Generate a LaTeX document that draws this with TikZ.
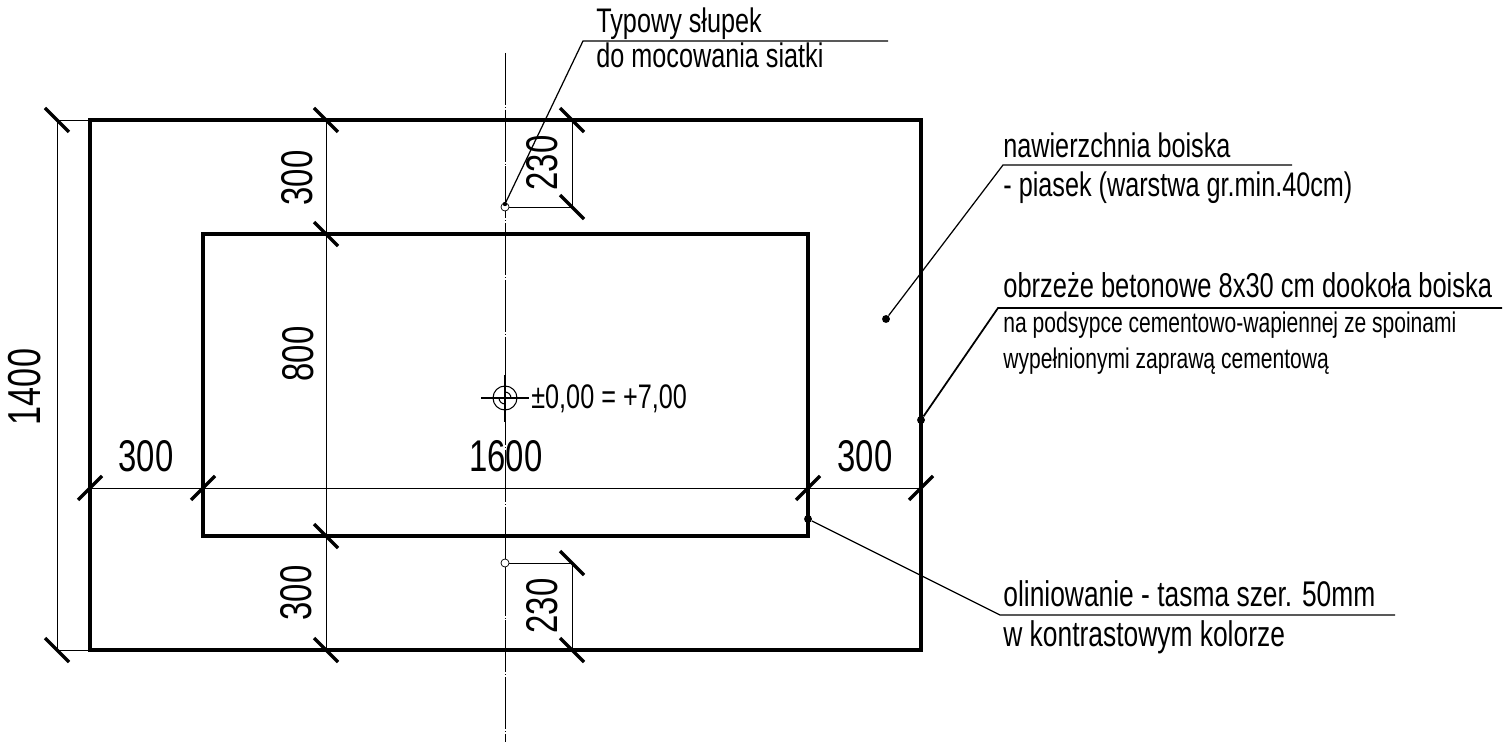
\documentclass[tikz,border=0pt]{standalone}
\usepackage{fontspec}
\newfontfamily\cadfont[FakeStretch=0.74]{Liberation Sans}
\tikzset{
  outline/.style={line width=2pt,line join=miter},
  dimline/.style={line width=0.55pt},
  slash/.style={line width=1.9pt},
  leader/.style={line width=0.7pt},
  axisline/.style={line width=0.55pt,dash pattern=on 29.5pt off 1.1pt on 0.6pt off 1.1pt},
  enddot/.style={circle,fill,inner sep=0pt,minimum size=4.5pt},
  post/.style={circle,draw,line width=0.4pt,fill=white,inner sep=0pt,minimum size=4.6pt},
  dimtext/.style={font=\cadfont\fontsize{25.3}{25.3}\selectfont,anchor=base,inner sep=0pt},
  vdimtext/.style={dimtext,rotate=90},
  notetext/.style={font=\cadfont\fontsize{19.4}{19.4}\selectfont,anchor=base west,inner sep=0pt},
  widetext/.style={notetext,font=\cadfont\fontsize{20.3}{20.3}\selectfont},
  smalltext/.style={font=\cadfont\fontsize{16.2}{16.2}\selectfont,anchor=base west,inner sep=0pt}
}
\begin{document}
\begin{tikzpicture}[x=0.02cm,y=-0.02cm]
\useasboundingbox(0,0)rectangle(1506,742);
\pgfmathsetmacro{\kl}{90}
\pgfmathsetmacro{\kr}{921}
\pgfmathsetmacro{\kt}{120}
\pgfmathsetmacro{\kb}{650}
\pgfmathsetmacro{\ka}{505}
%centre axis
\draw[axisline](\ka,53)--(\ka,742);
%field and inner area
\draw[outline](\kl,\kt)rectangle(\kr,\kb);
\draw[outline](203,234)rectangle(808,536);
%dimension lines
\draw[dimline](57,\kt)--(\kl,\kt);
\draw[dimline](57,\kb)--(\kl,\kb);
\draw[dimline](57,\kt)--(57,\kb);
\draw[dimline](326,\kt)--(326,\kb);
\draw[dimline](\kl,488)--(\kr,488);
\draw[dimline](\ka,207)--(572,207)--(572,\kt);
\draw[dimline](\ka,563)--(572,563)--(572,\kb);
%end slashes
\foreach \kx/\ky in {57/\kt,57/\kb,326/\kt,326/234,326/536,326/\kb,572/\kt,572/207,572/563,572/\kb}
  \draw[slash](\kx,\ky)++(-12,-12)--++(24,24);
\foreach \kx in {\kl,203,808,\kr}
  \draw[slash](\kx,488)++(-12,12)--++(24,-24);
%posts
\node[post](posttop)at(\ka,207){};
\node[post](postbottom)at(\ka,563){};
%level mark
\coordinate(level)at(\ka,398);
\draw[line width=0.6pt](level)circle(12);
\draw[line width=0.6pt](level)++(-24,0)--++(48,0);
\draw[line width=0.6pt](\ka,375)--(\ka,422);
\draw[line width=0.6pt](499,398)arc(180:90:6);
\draw[line width=0.6pt](511,398)arc(0:-90:6);
\node[notetext](levelnote)at(531,409){±0,00 = +7,00};
%dimension texts
\node[vdimtext](dimh)at(40,387){\fontsize{26.3}{26.3}\selectfont 1400};
\node[vdimtext](dimtop)at(312,178){300};
\node[vdimtext](dimmid)at(313,354){800};
\node[vdimtext](dimbot)at(311,593){300};
\node[vdimtext](posttopdim)at(557,163){230};
\node[vdimtext](postbotdim)at(557,606){230};
\node[dimtext](dimleft)at(146,472){300};
\node[dimtext](dimcentre)at(506,472){1600};
\node[dimtext](dimright)at(865,472){300};
%notes
\node[notetext](notepost)at(596,33){Typowy słupek};
\node[notetext](notepostb)at(596,68){do mocowania siatki};
\node[notetext](notesand)at(1003,158){nawierzchnia boiska};
\node[notetext](notesandb)at(1003,197){- piasek (warstwa gr.min.40cm)};
\node[notetext](noteedge)at(1003,298){\fontsize{19.6}{19.6}\selectfont obrzeże betonowe 8x30 cm dookoła boiska};
\node[smalltext](noteedgeb)at(1003,333){na podsypce cementowo-wapiennej ze spoinami};
\node[smalltext](noteedgec)at(1003,369){wypełnionymi zaprawą cementową};
\node[widetext](noteline)at(1003,606){oliniowanie - tasma szer. 50mm};
\node[widetext](notelineb)at(1003,646){w kontrastowym kolorze};
%leaders
\node[enddot,minimum size=2.5pt](dotpost)at(\ka,204){};
\node[enddot](dotsand)at(886,319){};
\node[enddot](dotedge)at(\kr,420){};
\node[enddot](dotline)at(808,519){};
\coordinate(kneepost)at(583,41);
\coordinate(endpost)at(888,41);
\coordinate(kneesand)at(1003,165);
\coordinate(endsand)at(1292,165);
\coordinate(kneeedge)at(998,308);
\coordinate(endedge)at(1502,308);
\coordinate(kneeline)at(1000,615);
\coordinate(endline)at(1395,615);
\draw[leader](dotpost)--(kneepost)--(endpost);
\draw[leader](dotsand)--(kneesand)--(endsand);
\draw[leader,line width=1pt](dotedge)--(kneeedge)--(endedge);
\draw[leader](dotline)--(kneeline)--(endline);
\end{tikzpicture}
\end{document}
